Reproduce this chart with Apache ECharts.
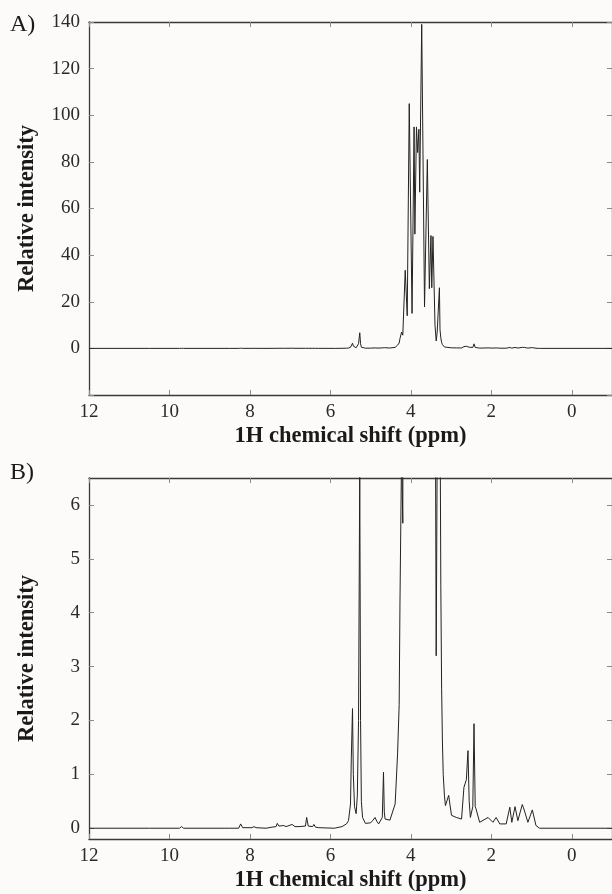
<!DOCTYPE html>
<html>
<head>
<meta charset="utf-8">
<script src="https://cdn.jsdelivr.net/npm/echarts@6/dist/echarts.min.js"></script>
<style>
  html, body { margin: 0; padding: 0; background: #fcfbfa; }
  #chart { width: 612px; height: 894px; }
</style>
</head>
<body>
<div id="chart"></div>
<script>
/// data, ppm descending

const ppm = [
  12.0, 10.5, 9.75, 9.7, 9.65, 8.5, 8.28, 8.23, 8.18, 7.95, 7.9, 7.85,
  7.6, 7.45, 7.35, 7.32, 7.28, 7.16, 7.1, 6.95, 6.88, 6.78, 6.62, 6.59,
  6.55, 6.52, 6.44, 6.41, 6.37, 6.29, 5.9, 5.71, 5.6, 5.55, 5.5, 5.48,
  5.45, 5.43, 5.4, 5.36, 5.33, 5.3, 5.27, 5.25, 5.23, 5.2, 5.13, 5.0,
  4.94, 4.89, 4.84, 4.8, 4.71, 4.68, 4.66, 4.64, 4.52, 4.39, 4.33, 4.29,
  4.27, 4.23, 4.2, 4.14, 4.09, 4.04, 3.97, 3.92, 3.9, 3.86, 3.83, 3.8,
  3.78, 3.73, 3.66, 3.59, 3.54, 3.5, 3.48, 3.45, 3.4, 3.37, 3.345, 3.29,
  3.275, 3.255, 3.235, 3.215, 3.195, 3.165, 3.14, 3.1, 3.06, 2.99, 2.87, 2.74,
  2.68, 2.62, 2.58, 2.55, 2.52, 2.46, 2.43, 2.4, 2.38, 2.29, 2.08, 1.96,
  1.88, 1.79, 1.63, 1.54, 1.49, 1.41, 1.34, 1.23, 1.2, 1.17, 1.09, 0.98,
  0.89, 0.8, -1.0
]

const intensity = [
  0, 0, 0, 0.03, 0, 0, 0, 0.08, 0.01, 0.01, 0.03, 0.01,
  0, 0.02, 0.03, 0.09, 0.04, 0.05, 0.03, 0.07, 0.03, 0.03, 0.04, 0.2,
  0.04, 0.03, 0.03, 0.07, 0.02, 0.01, 0, 0.03, 0.08, 0.14, 0.45, 1.3,
  2.22, 1.0, 0.4, 0.27, 0.6, 2.0, 6.7, 2.0, 0.5, 0.2, 0.09, 0.1,
  0.15, 0.2, 0.12, 0.08, 0.2, 1.04, 0.3, 0.17, 0.15, 0.45, 1.38, 2.3,
  4.2, 7.0, 5.66, 33.5, 14, 105, 15, 95, 49, 95, 84, 94,
  67, 139, 17.8, 81, 25.6, 48.4, 26, 48, 10, 3.2, 7, 26,
  8, 4.5, 2.6, 1.6, 1.0, 0.6, 0.42, 0.45, 0.61, 0.24, 0.2, 0.17,
  0.76, 0.9, 1.44, 0.5, 0.2, 0.4, 1.94, 0.4, 0.36, 0.11, 0.2, 0.11,
  0.2, 0.08, 0.08, 0.39, 0.11, 0.4, 0.14, 0.44, 0.38, 0.39, 0.11, 0.34,
  0.05, 0, 0
]

const xTicks = [12, 10, 8, 6, 4, 2, 0]
const yTicksB = [0, 1, 2, 3, 4, 5, 6]

const spectrum = ppm.map((p, i) => [p, intensity[i]])


/// style

const FONT = '"Liberation Serif", "Times New Roman", serif'
const AXIS = '#3a3a3a'
const TICK = '#8a8a8a'

const label = { fontFamily: FONT, fontSize: 19, color: '#2a2a2a' }
const title = { fontFamily: FONT, fontSize: 22.5, fontWeight: 'bold', color: '#1a1a1a' }

function xAxes(gridIndex) {
  const common = {
    gridIndex, type: 'value', min: -1, max: 12, inverse: true,
    axisLine: { show: true, onZero: false, lineStyle: { color: AXIS, width: 1.3 } },
    axisTick: { show: true, inside: true, length: 5, customValues: xTicks,
                lineStyle: { color: TICK } },
    splitLine: { show: false }
  }
  return [
    Object.assign({}, common, {
      position: 'bottom',
      axisLabel: Object.assign({ customValues: xTicks, margin: 8 }, label),
      name: '1H chemical shift (ppm)', nameLocation: 'middle', nameGap: 30,
      nameTextStyle: title
    }),
    Object.assign({}, common, { position: 'top', axisLabel: { show: false } })
  ]
}

function yAxes(gridIndex, extra) {
  const common = Object.assign({
    gridIndex, type: 'value',
    axisLine: { show: true, onZero: false, lineStyle: { color: AXIS, width: 1.3 } },
    splitLine: { show: false }
  }, extra)
  const tick = Object.assign({ show: true, inside: true, length: 5,
                               lineStyle: { color: TICK } }, extra.tick)
  delete common.tick
  return [
    Object.assign({}, common, {
      position: 'left', axisTick: tick,
      axisLabel: Object.assign({ margin: 9 }, label, extra.label),
      name: 'Relative intensity', nameLocation: 'middle', nameGap: 50,
      nameTextStyle: title
    }),
    Object.assign({}, common, { position: 'right', axisTick: tick,
                                axisLabel: { show: false } })
  ]
}


/// chart

const chart = echarts.init(document.getElementById('chart'))

chart.setOption({
  animation: false,
  backgroundColor: '#fcfbfa',
  grid: [
    { left: 89, top: 22, width: 525, height: 373 },
    { left: 89, top: 478, width: 525, height: 361 }
  ],
  xAxis: [...xAxes(0), ...xAxes(1)],
  yAxis: [
    ...yAxes(0, { min: -20, max: 140, interval: 20,
                  label: { formatter: v => (v < 0 ? '' : v) } }),
    ...yAxes(1, { min: -0.2, max: 6.5,
                  tick: { customValues: yTicksB },
                  label: { customValues: yTicksB } })
  ],
  series: [
    { type: 'line', xAxisIndex: 0, yAxisIndex: 0, data: spectrum, showSymbol: false,
      clip: true, lineStyle: { color: '#222', width: 1 } },
    { type: 'line', xAxisIndex: 2, yAxisIndex: 2, data: spectrum, showSymbol: false,
      clip: true, lineStyle: { color: '#222', width: 1 } }
  ],
  graphic: [
    { type: 'text', left: 10, top: 13, style: { text: 'A)', font: '24px ' + FONT, fill: '#1a1a1a' } },
    { type: 'text', left: 10, top: 461, style: { text: 'B)', font: '24px ' + FONT, fill: '#1a1a1a' } }
  ]
})
</script>
</body>
</html>
